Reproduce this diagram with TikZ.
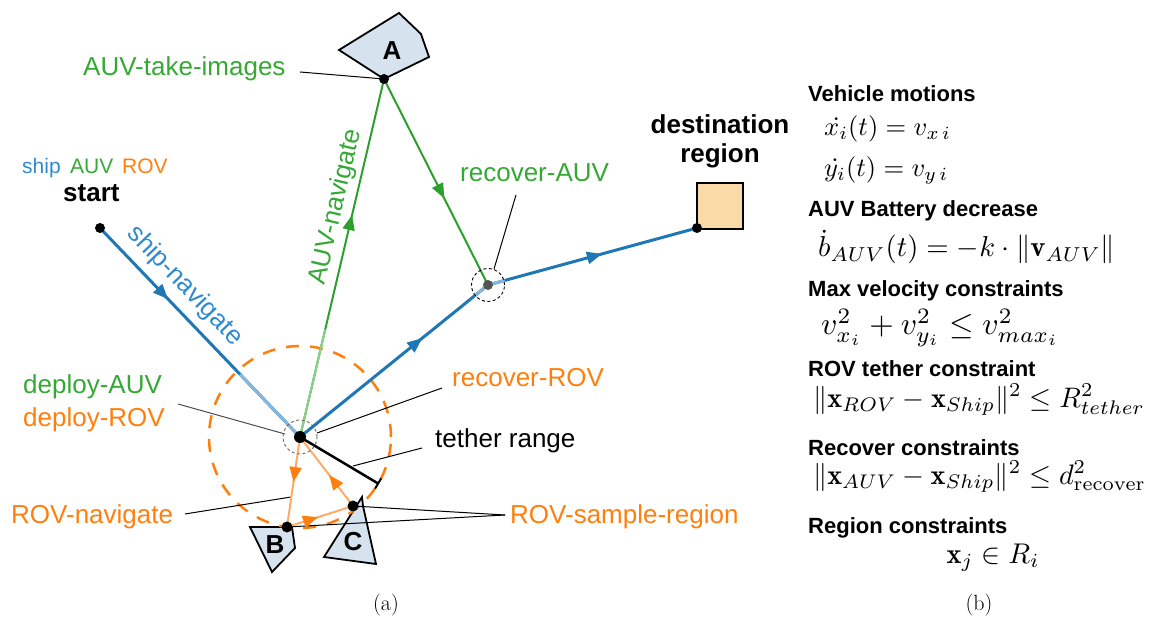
\documentclass[tikz,border=0pt]{standalone}
\usepackage{fontspec}
\setsansfont{Liberation Sans}
\usepackage{amsmath}
\usepackage{graphicx}
\usetikzlibrary{arrows.meta,decorations.markings,calc}
\definecolor{cblue}{HTML}{1F77B4}
\definecolor{lblue}{HTML}{86B6DC}
\definecolor{tblue}{HTML}{2E8BCF}
\definecolor{cgreen}{HTML}{2CA02C}
\definecolor{lgreen}{HTML}{8CCF8C}
\definecolor{tgreen}{HTML}{35A835}
\definecolor{corange}{HTML}{FF7F0E}
\definecolor{lorange}{HTML}{FFAB66}
\definecolor{polyfill}{HTML}{D6E2EE}
\definecolor{destfill}{HTML}{FADBA8}
\definecolor{recdot}{HTML}{555555}
\newcommand{\eqS}[2]{\scalebox{#1}{$#2$}}
\begin{document}
\begin{tikzpicture}[x=1pt,y=-1pt,
  lbl/.style={font=\sffamily\fontsize{26}{30}\selectfont, inner sep=0pt},
  small/.style={font=\sffamily\fontsize{21}{25}\selectfont, inner sep=0pt},
  bigb/.style={font=\sffamily\bfseries\fontsize{26}{30}\selectfont, inner sep=0pt},
  head/.style={font=\sffamily\bfseries\fontsize{22}{26}\selectfont, inner sep=0pt, anchor=base west},
  eqn/.style={font=\fontsize{10}{12}\selectfont, inner sep=0pt, anchor=base west},
  captxt/.style={font=\fontsize{22}{26}\selectfont, inner sep=0pt},
  poly/.style={draw=black, line width=1.8pt, fill=polyfill, line join=miter},
  leader/.style={draw=black, line width=1pt},
  blueline/.style={draw=cblue, line width=3pt},
  greenline/.style={draw=cgreen, line width=2pt},
  orangeline/.style={draw=lorange, line width=2pt},
  midarrow/.style 2 args={postaction={decorate}, decoration={markings,
     mark=at position #1 with {\arrow[#2]{Triangle[length=15pt,width=12pt]}}}},
  dot/.style={fill=black}]
\useasboundingbox (0,0) rectangle (1162,617);

% key points
\coordinate (start) at (100,228);
\coordinate (hub) at (300,437);
\coordinate (A) at (384,79);
\coordinate (rec) at (488,285);
\coordinate (dest) at (697,228);
\coordinate (B) at (287,527);
\coordinate (C) at (353,506);
\coordinate (teth) at (379,484);

% regions
\draw[poly] (339,50) -- (399,13) -- (421,34) -- (429,57) -- (A) -- cycle;
\node[bigb] (la) at (392,51) {A};
\draw[poly] (250,527) -- (292,527) -- (295,548) -- (272,572) -- cycle;
\node[bigb] (lb) at (275,545) {B};
\draw[poly] (324,557) -- (362,497) -- (363,506) -- (376,564) -- cycle;
\node[bigb] (lc) at (353,542) {C};
\draw[line width=1.8pt, fill=destfill] (697,183) rectangle (743,229);

% tether range circle
\draw[corange, line width=2.5pt, dash pattern=on 13pt off 11pt] (hub) circle (91pt);

% leaders
\coordinate (ltake) at (300,72);
\draw[leader] (ltake) -- (A);
\coordinate (lrauv) at (516,195);
\coordinate (lrauv2) at (494,269);
\draw[leader] (lrauv) -- (lrauv2);
\coordinate (ldep) at (178,404);
\coordinate (ldep2) at (285,434);
\draw[leader, draw=black!70] (ldep) -- (ldep2);
\coordinate (lrrov) at (442,388);
\coordinate (lrrov2) at (317,433);
\draw[leader] (lrrov) -- (lrrov2);
\coordinate (lteth) at (422,448);
\coordinate (lteth2) at (353,466);
\draw[leader] (lteth) -- (lteth2);
\coordinate (lnav) at (185,514);
\coordinate (lnav2) at (291,497);
\draw[leader] (lnav) -- (lnav2);
\coordinate (lsamp) at (505,515);
\draw[leader] (lsamp) -- (C);
\draw[leader] (lsamp) -- (B);

% ship paths
\draw[blueline, midarrow={0.34}{cblue}] (start) -- (hub);
\draw[draw=lblue, line width=3pt] ($(start)!0.7!(hub)$) -- (hub);
\draw[blueline, midarrow={0.65}{cblue}] (hub) -- (rec);
\draw[draw=lblue, line width=3pt] ($(hub)!0.93!(rec)$) -- (rec);
\draw[blueline, midarrow={0.545}{cblue}] (rec) -- (dest);
\draw[draw=lblue, line width=3pt] (rec) -- ($(rec)!0.08!(dest)$);

% AUV paths
\draw[greenline, midarrow={0.62}{cgreen}] (hub) -- (A);
\draw[draw=lgreen, line width=2pt] (hub) -- ($(hub)!0.3!(A)$);
\draw[greenline, midarrow={0.58}{cgreen}] (A) -- (rec);

% ROV paths
\draw[orangeline, midarrow={0.5}{corange}] (hub) -- (B);
\draw[orangeline, midarrow={0.47}{corange}] (B) -- (C);
\draw[orangeline, midarrow={0.45}{corange}] (C) -- (hub);

% tether
\draw[line width=2.5pt, -{Bar[width=12pt,line width=2pt]}] (hub) -- (teth);

% dashed markers
\draw[black!60, line width=0.9pt, dash pattern=on 3pt off 2.5pt] (hub) circle (17pt);
\draw[black, line width=0.9pt, dash pattern=on 3pt off 2.5pt] (rec) circle (16.5pt);

% dots
\fill[dot] (start) circle (5pt);
\fill[dot] (A) circle (5pt);
\fill[dot] (hub) circle (6pt);
\fill[dot] (B) circle (5.5pt);
\fill[dot] (C) circle (5.5pt);
\fill[dot] (dest) circle (5pt);
\fill[recdot] (rec) circle (5pt);

% labels
\node[small, text=tblue, anchor=base west] (lship) at (22,174) {ship};
\node[small, text=tgreen, anchor=base west] (lauv) at (70,174) {AUV};
\node[small, text=corange, anchor=base west] (lrov) at (122,174) {ROV};
\node[bigb, anchor=base west] (lstart) at (63,202) {start};
\node[bigb, anchor=base] (ldest) at (720,134) {destination};
\node[bigb, anchor=base] (lregion) at (720,163) {region};
\node[lbl, text=tgreen, anchor=base west] (ttake) at (83,76) {AUV-take-images};
\node[lbl, text=tgreen, rotate=76.8] (tnav) at (336,207) {AUV-navigate};
\node[lbl, text=tblue, rotate=-46.3] (tship) at (185,286) {ship-navigate};
\node[lbl, text=tgreen, anchor=base west] (trauv) at (460,182) {recover-AUV};
\node[lbl, text=tgreen, anchor=base west] (tdauv) at (23,394) {deploy-AUV};
\node[lbl, text=corange, anchor=base west] (tdrov) at (23,427) {deploy-ROV};
\node[lbl, text=corange, anchor=base west] (trrov) at (452,387) {recover-ROV};
\node[lbl, anchor=base west] (tteth) at (435,447) {tether range};
\node[lbl, text=corange, anchor=base west] (trnav) at (11,523) {ROV-navigate};
\node[lbl, text=corange, anchor=base west] (tsamp) at (510,523) {ROV-sample-region};

% right panel
\node[head] (h1) at (808,102) {Vehicle motions};
\node[eqn] (e1) at (824,136) {\eqS{2.65}{\dot{x_i}(t) = v_{x\,i}}};
\node[eqn] (e2) at (824,177) {\eqS{2.65}{\dot{y_i}(t) = v_{y\,i}}};
\node[head] (h2) at (808,217) {AUV Battery decrease};
\node[eqn] (e3) at (818,257) {\eqS{2.88}{\dot{b}_{AUV}(t) = -k\cdot\|\mathbf{v}_{AUV}\|}};
\node[head] (h3) at (808,297) {Max velocity constraints};
\node[eqn] (e4) at (821,335) {\eqS{3.15}{v^2_{x_i} + v^2_{y_i} \le v^2_{max_i}}};
\node[head] (h4) at (808,377) {ROV tether constraint};
\node[eqn] (e5) at (813,407) {\eqS{2.82}{\|\mathbf{x}_{ROV} - \mathbf{x}_{Ship}\|^2 \le R^2_{tether}}};
\node[head] (h5) at (808,455) {Recover constraints};
\node[eqn] (e6) at (813,484) {\eqS{2.82}{\|\mathbf{x}_{AUV} - \mathbf{x}_{Ship}\|^2 \le d^2_{\mathrm{recover}}}};
\node[head] (h6) at (808,533) {Region constraints};
\node[eqn, anchor=base] (e7) at (993,563) {\eqS{2.85}{\mathbf{x}_j \in R_i}};

\node[captxt, anchor=base] (capa) at (386,610) {(a)};
\node[captxt, anchor=base] (capb) at (979,610) {(b)};
\end{tikzpicture}
\end{document}
